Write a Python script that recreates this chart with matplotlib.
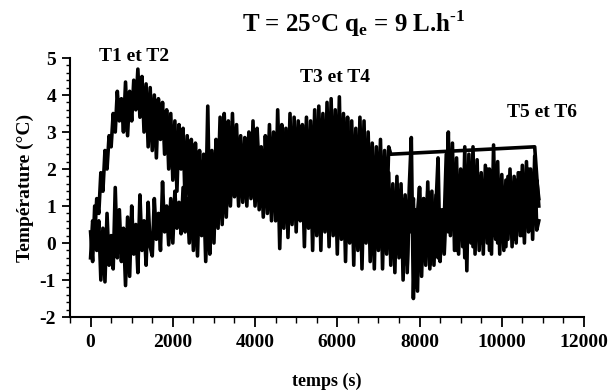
import numpy as np
import matplotlib
matplotlib.use('Agg')
import matplotlib.pyplot as plt
from matplotlib.ticker import MultipleLocator

plt.rcParams['font.family'] = 'Liberation Serif'
plt.rcParams['font.weight'] = 'bold'
plt.rcParams['axes.unicode_minus'] = False
plt.rcParams['mathtext.fontset'] = 'custom'
plt.rcParams['mathtext.rm'] = 'Liberation Serif:bold'
plt.rcParams['mathtext.bf'] = 'Liberation Serif:bold'

# upper trace (s, degC), ends with the straight join over to 10800 s
temps_a = list(range(0, 7350, 50)) + [10800, 10900]
temp_a = [-0.4, 0.6, 0.2, 1.2, 0.8, 1.9, 1.4, 2.5, 2.0, 2.9,
          2.6, 3.5, 3.0, 4.1, 3.3, 3.9, 3.0, 4.35, 2.9, 4.1,
          3.3, 4.4, 3.6, 4.7, 3.4, 4.5, 3.0, 4.3, 2.6, 4.2,
          2.5, 4.0, 2.3, 3.9, 2.8, 3.8, 2.4, 3.6, 2.0, 3.5,
          1.7, 3.3, 1.4, 3.2, 2.0, 3.1, 1.0, 2.9, 1.2, 2.8,
          0.6, 2.7, 1.2, 2.5, 0.6, 2.4, 0.9, 3.7, 0.5, 2.5,
          0.9, 2.8, 1.5, 3.4, 1.1, 3.5, 1.8, 3.3, 1.3, 3.5,
          1.6, 3.2, 1.4, 2.9, 1.2, 2.85, 1.8, 3.0, 1.4, 3.3,
          1.3, 3.1, 1.9, 2.6, 1.0, 2.9, 1.5, 3.2, 1.1, 3.0,
          1.0, 3.6, 1.6, 3.2, 0.8, 3.1, 1.3, 3.5, 0.9, 3.4,
          1.4, 3.3, 0.8, 3.2, 1.5, 3.4, 0.9, 3.3, 1.2, 3.6,
          1.0, 3.7, 1.6, 3.5, 1.0, 3.8, 1.3, 3.9, 1.1, 3.6,
          1.2, 3.95, 0.9, 3.5, 1.4, 3.4, 0.6, 3.3, 0.9, 3.1,
          0.5, 3.4, 1.1, 3.3, 0.4, 3.0, 0.8, 2.7, 0.2, 2.6,
          0.7, 2.8, 0.2, 2.5, 0.6, 2.6, 2.4,
          2.6, 1.0]

# lower trace over the whole run
temps_b = list(range(0, 10950, 50))
temp_b = [0.3, -0.5, 1.0, -0.2, 0.6, -1.0, 0.4, -1.05, 0.8, -0.6,
          0.2, -0.7, 1.5, -0.4, 0.9, -0.5, 0.4, -1.15, 0.7, -0.9,
          1.0, -0.3, 0.5, -0.8, 1.3, -0.2, 0.6, -0.6, 1.1, -0.1,
          -0.35, 1.2, 0.1, 0.8, -0.2, 1.65, 0.3, 1.0, -0.05, 1.2,
          0.0, 1.4, 0.4, 1.1, 0.25, 1.5, 0.3, 1.2, 0.0, 1.5,
          -0.2, 1.3, -0.35, 1.6, 0.2, 1.4, -0.5, 1.2, -0.3, 1.8,
          0.0, 2.0, 0.4, 2.3, 0.5, 2.2, 0.7, 2.5, 1.0, 2.4,
          1.25, 2.3, 1.0, 2.6, 1.1, 2.4, 1.0, 2.5, 1.2, 2.2,
          1.0, 2.4, 0.9, 2.1, 0.7, 2.5, 0.8, 2.2, 0.6, 2.6,
          0.6, 2.3, -0.15, 2.0, 0.4, 2.4, 0.15, 2.1, 0.5, 2.2,
          0.3, 2.5, 0.6, 2.0, -0.1, 2.3, 0.4, 2.1, -0.2, 2.4,
          0.2, 2.1, -0.2, 2.4, 0.3, 2.0, -0.1, 2.3, 0.2, 2.0,
          -0.3, 2.2, 0.1, 1.9, -0.5, 2.0, 0.0, 1.9, -0.6, 2.1,
          -0.2, 2.0, -0.7, 1.8, 0.0, 2.1, -0.5, 1.7, -0.7, 1.9,
          -0.2, 2.1, -0.7, 1.7, -0.3, 1.9, -0.6, 1.6, -0.8, 1.8,
          -0.4, 1.6, -1.0, 1.3, -0.6, 1.5, 2.85, -1.5, 0.9, -1.3,
          1.5, -0.9, 1.2, -0.6, 1.65, -0.7, 1.4, -0.6, 1.0, 2.3,
          -0.5, 0.9, -0.3, 1.0, 3.0, 0.2, 2.7, -0.2, 2.3, -0.3,
          2.0, -0.1, 2.6, -0.75, 2.4, 0.0, 2.6, -0.3, 2.25, -0.2,
          1.9, -0.3, 2.1, 0.0, 2.0, -0.3, 2.65, 0.1, 2.2, -0.3,
          1.85, -0.2, 1.7, 0.1, 2.0, -0.1, 1.8, 0.0, 1.9, 0.2,
          2.1, 0.0, 2.2, 0.3, 2.0, 0.1, 2.35, 0.35, 0.6]

# T5-T6 part
temps_c = list(range(7400, 10950, 50))
temp_c = [0.5, 1.6,
          -0.3, 1.4, 0.2, 1.2, -0.8, 1.0, 0.3, 1.2, -1.2, 0.8,
          1.5, -0.4, 1.2, 0.2, 1.4, -0.6, 0.8, 0.0, 1.3, -0.4,
          0.8, -0.1, 0.6, 2.4, 0.3, 1.8, 0.6, 2.0, -0.2, 1.6,
          0.1, 1.7, -0.4, 1.6, 0.3, 2.0, -0.1, 1.5, 0.4, 1.8,
          0.0, 1.6, 0.5, 2.0, -0.2, 1.5, 0.2, 1.7, 0.0, 1.6,
          0.4, 1.5, -0.1, 1.8, 0.3, 1.6, 0.1, 1.7, 0.4, 1.9,
          0.2, 1.6, 0.5, 2.0, 0.35, 1.8, 0.6, 1.7, 1.2]

fig = plt.figure(figsize=(6.12, 3.92), dpi=100)
ax = fig.add_axes([0.1144, 0.1913, 0.8399, 0.6607])

ax.plot(temps_a, temp_a, color='black', lw=2.6)
ax.plot(temps_b, temp_b, color='black', lw=2.6)
ax.plot(temps_c, temp_c, color='black', lw=2.6)

ax.set_xlim(-500, 12000)
ax.set_ylim(-2, 5)
ax.xaxis.set_major_locator(MultipleLocator(2000))
ax.xaxis.set_minor_locator(MultipleLocator(500))
ax.yaxis.set_major_locator(MultipleLocator(1))
ax.yaxis.set_minor_locator(MultipleLocator(0.2))
ax.spines['top'].set_visible(False)
ax.spines['right'].set_visible(False)
ax.spines['left'].set_linewidth(1.5)
ax.spines['bottom'].set_linewidth(1.5)
ax.tick_params(axis='both', which='major', labelsize=14, width=1.3)
ax.tick_params(axis='x', which='major', length=7, pad=5)
ax.tick_params(axis='x', which='minor', length=4, width=1)
ax.tick_params(axis='y', which='major', length=6, pad=4)
ax.tick_params(axis='y', which='minor', length=3, width=1)
for lab in ax.get_xticklabels() + ax.get_yticklabels():
    lab.set_fontweight('bold')

ax.set_xlabel('temps (s)', fontsize=13, fontweight='bold', labelpad=16)
ax.set_ylabel('Température (°C)', fontsize=14, fontweight='bold', labelpad=4)

fig.text(0.578, 0.94, r'T = 25°C q$_{\rm e}$ = 9 L.h$^{\text{-1}}$',
         fontsize=18, fontweight='bold', ha='center', va='center')

ax.text(1050, 5.03, 'T1 et T2', fontsize=14, fontweight='bold', ha='center', va='center')
ax.text(5940, 4.46, 'T3 et T4', fontsize=14, fontweight='bold', ha='center', va='center')
ax.text(10970, 3.54, 'T5 et T6', fontsize=14, fontweight='bold', ha='center', va='center')

fig.savefig('out.png', dpi=100)
